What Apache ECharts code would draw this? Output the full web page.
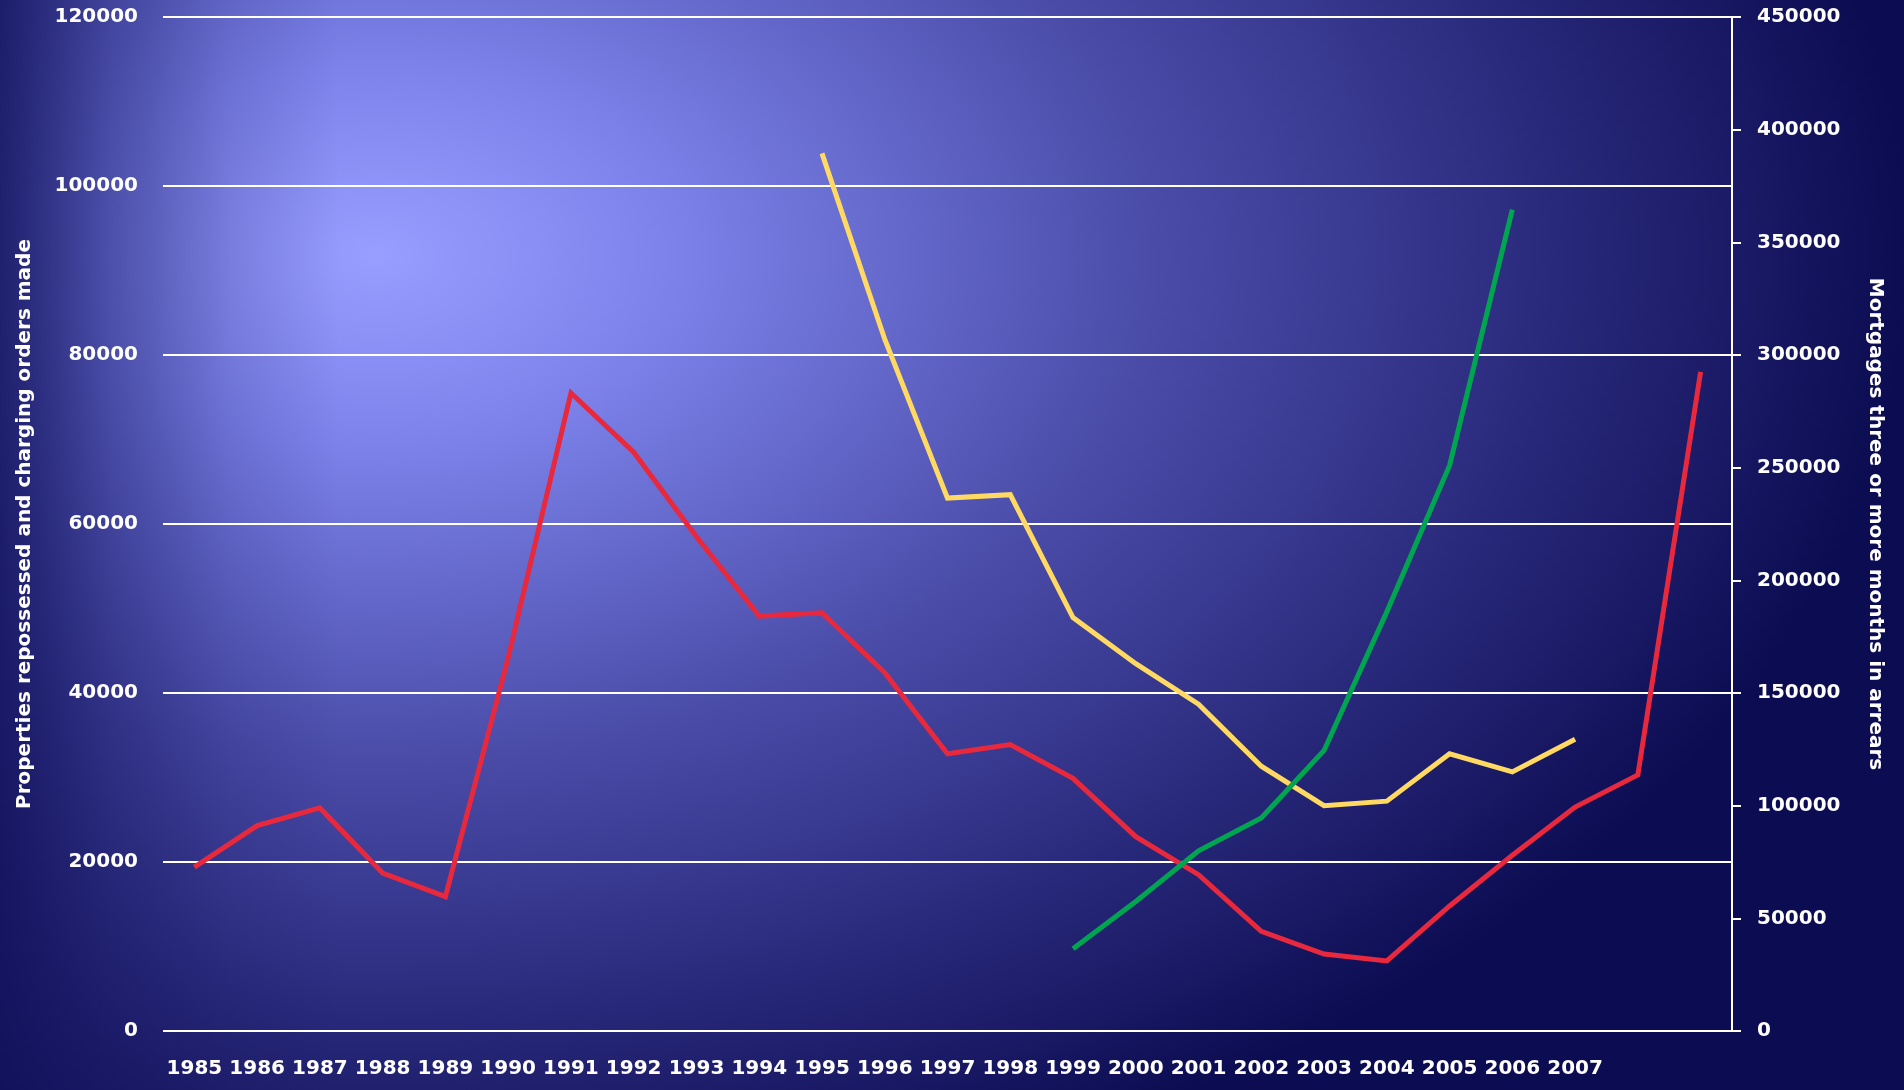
<!DOCTYPE html>
<html><head><meta charset="utf-8">
<script src="https://cdn.jsdelivr.net/npm/echarts@6/dist/echarts.min.js"></script>
<style>
html,body{margin:0;padding:0;width:1904px;height:1090px;overflow:hidden;}
#c{width:1904px;height:1090px;
background:
 linear-gradient(to right, rgba(16,16,90,0.85) 0px, rgba(16,16,90,0.45) 110px, rgba(16,16,90,0.15) 230px, rgba(16,16,90,0) 340px),
 radial-gradient(ellipse 1550px 1000px at 376px 255px, #989eff 0%, #7c82ea 19%, #4a4ca8 50%, #28287a 77%, #0c0c52 99%);}
</style></head><body><div id="c"></div>
<script>
const categories = ['1985','1986','1987','1988','1989','1990','1991','1992','1993','1994','1995','1996','1997','1998','1999','2000','2001','2002','2003','2004','2005','2006','2007','',''];
const repossessions = [19400,24300,26400,18700,15900,44200,75500,68500,58500,49100,49500,42400,32800,33900,29900,23000,18500,11800,9100,8300,14800,20800,26500,30300,78000];
const arrearsYellow = [null,null,null,null,null,null,null,null,null,null,389500,307000,236500,238000,183500,163000,145000,117500,100000,102000,123000,115000,129500,null,null];
const arrearsGreen = [null,null,null,null,null,null,null,null,null,null,null,null,null,null,36500,57500,80000,94500,124500,186000,251000,364500,null,null,null];
const leftTicks = {min:0, max:120000, interval:20000};
const rightTicks = {min:0, max:450000, interval:50000};
const leftName = 'Properties repossessed and charging orders made';
const rightName = 'Mortgages three or more months in arrears';

const chart = echarts.init(document.getElementById('c'), null, {renderer:'canvas'});
const font = {color:'#ffffff', fontFamily:'DejaVu Sans', fontWeight:'bold', fontSize:20};
const plain = v => String(v);
chart.setOption({
  animation:false,
  backgroundColor:'transparent',
  grid:{left:163, right:172, top:17, bottom:59, containLabel:false},
  xAxis:{type:'category', data:categories, boundaryGap:true,
    axisLine:{show:false}, axisTick:{show:false},
    axisLabel:Object.assign({interval:0, margin:28}, font),
    splitLine:{show:false}},
  yAxis:[
    {type:'value', position:'left', min:leftTicks.min, max:leftTicks.max, interval:leftTicks.interval,
     name:leftName, nameLocation:'middle', nameGap:128, nameRotate:90,
     nameTextStyle:{color:'#fff', fontFamily:'DejaVu Sans', fontWeight:'bold', fontSize:20},
     axisLine:{show:false}, axisTick:{show:false},
     axisLabel:Object.assign({margin:25, formatter:plain}, font),
     splitLine:{show:true, lineStyle:{color:'#ffffff', width:2}}},
    {type:'value', position:'right', min:rightTicks.min, max:rightTicks.max, interval:rightTicks.interval,
     name:rightName, nameLocation:'middle', nameGap:133, nameRotate:-90,
     nameTextStyle:{color:'#fff', fontFamily:'DejaVu Sans', fontWeight:'bold', fontSize:20},
     axisLine:{show:true, lineStyle:{color:'#ffffff', width:2}},
     axisTick:{show:true, inside:false, length:9, lineStyle:{color:'#ffffff', width:2}},
     axisLabel:Object.assign({margin:25, formatter:plain}, font),
     splitLine:{show:false}}
  ],
  series:[
    {type:'line', name:'Repossessions', yAxisIndex:0, data:repossessions, symbol:'none',
     lineStyle:{color:'#e8293d', width:5, cap:'butt', join:'miter'}},
    {type:'line', name:'Arrears A', yAxisIndex:1, data:arrearsYellow, symbol:'none',
     lineStyle:{color:'#ffd962', width:5, cap:'butt', join:'miter'}},
    {type:'line', name:'Arrears B', yAxisIndex:1, data:arrearsGreen, symbol:'none',
     lineStyle:{color:'#00a54f', width:5, cap:'butt', join:'miter'}}
  ]
});
</script></body></html>
